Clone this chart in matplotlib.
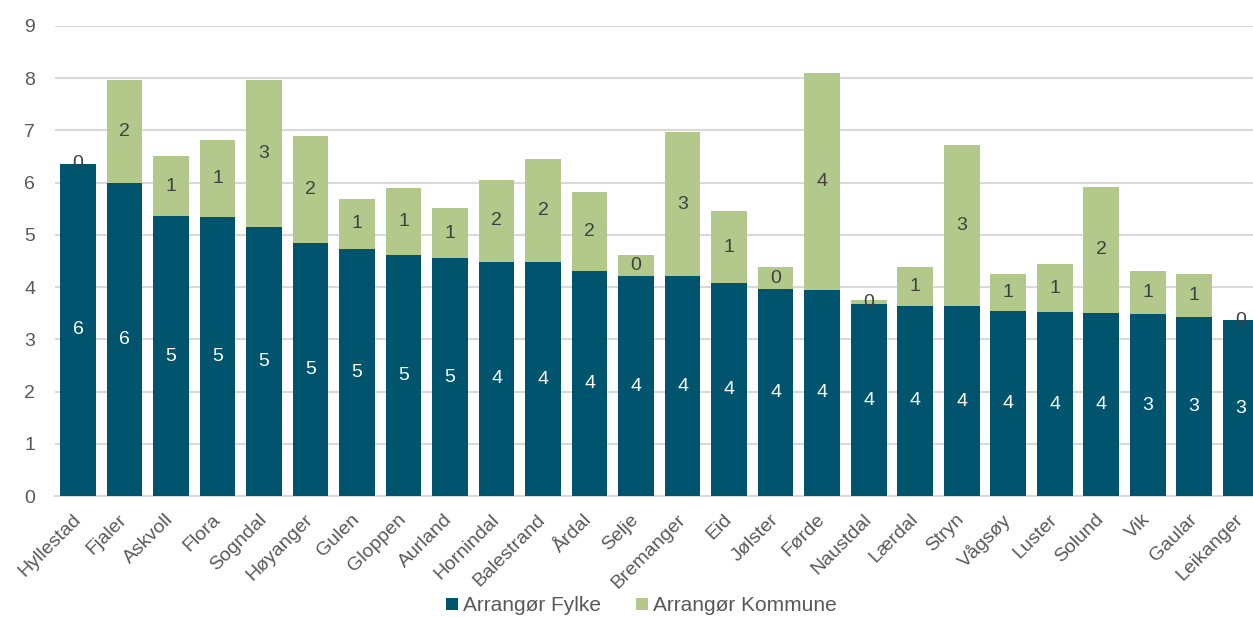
import matplotlib.pyplot as plt
import numpy as np

kommuner = ['Hyllestad', 'Fjaler', 'Askvoll', 'Flora', 'Sogndal', 'Høyanger', 'Gulen',
            'Gloppen', 'Aurland', 'Hornindal', 'Balestrand', 'Årdal', 'Selje', 'Bremanger',
            'Eid', 'Jølster', 'Førde', 'Naustdal', 'Lærdal', 'Stryn', 'Vågsøy', 'Luster',
            'Solund', 'Vik', 'Gaular', 'Leikanger']
fylke = [6.36, 6.00, 5.36, 5.35, 5.15, 4.85, 4.73, 4.61, 4.55, 4.49, 4.48, 4.30, 4.21,
         4.21, 4.08, 3.96, 3.95, 3.67, 3.64, 3.63, 3.54, 3.52, 3.51, 3.48, 3.43, 3.37]
kommune = [0.00, 1.97, 1.15, 1.47, 2.82, 2.04, 0.96, 1.29, 0.97, 1.56, 1.97, 1.52, 0.41,
           2.75, 1.37, 0.42, 4.14, 0.08, 0.74, 3.09, 0.71, 0.92, 2.41, 0.83, 0.82, 0.00]

plt.rcParams['font.family'] = ['Liberation Sans', 'DejaVu Sans']

fig = plt.figure(figsize=(12.53, 6.17), dpi=100)
ax = fig.add_axes([0.0437, 0.196, 0.965, 0.762])

x = np.arange(len(kommuner))
b1 = ax.bar(x, fylke, width=0.77, color='#00546E', label='Arrangør Fylke', zorder=3)
b2 = ax.bar(x, kommune, width=0.77, bottom=fylke, color='#B3C98C',
            label='Arrangør Kommune', zorder=3)

# etiketter midt i hvert segment
for i in range(len(x)):
    ax.text(x[i], fylke[i] / 2, '%.0f' % fylke[i], ha='center', va='center',
            color='white', fontsize=14, zorder=4)
    ax.text(x[i], fylke[i] + kommune[i] / 2, '%.0f' % kommune[i], ha='center',
            va='center', color='#404040', fontsize=14, zorder=4)

ax.set_xlim(-0.5, len(kommuner) - 0.5)
ax.set_ylim(0, 9)
ax.set_yticks(range(10))
ax.yaxis.grid(True, color='#D9D9D9', linewidth=1.5, zorder=0)
for s in ['top', 'right', 'left']:
    ax.spines[s].set_visible(False)
ax.spines['bottom'].set_color('#D9D9D9')
ax.spines['bottom'].set_linewidth(1.5)
ax.tick_params(axis='both', length=0, labelsize=14, colors='#595959')
ax.tick_params(axis='y', pad=14)
ax.tick_params(axis='x', pad=15)
ax.set_xticks(x)
ax.set_xticklabels(kommuner, rotation=45, ha='right', va='center', rotation_mode='anchor')

fig.legend(handles=[b1, b2], loc='center', bbox_to_anchor=(0.512, 0.018), ncol=2,
           frameon=False, fontsize=15, handlelength=0.55, handleheight=0.55,
           handletextpad=0.25, columnspacing=1.7, labelcolor='#595959')

plt.savefig('out.png', dpi=100)
